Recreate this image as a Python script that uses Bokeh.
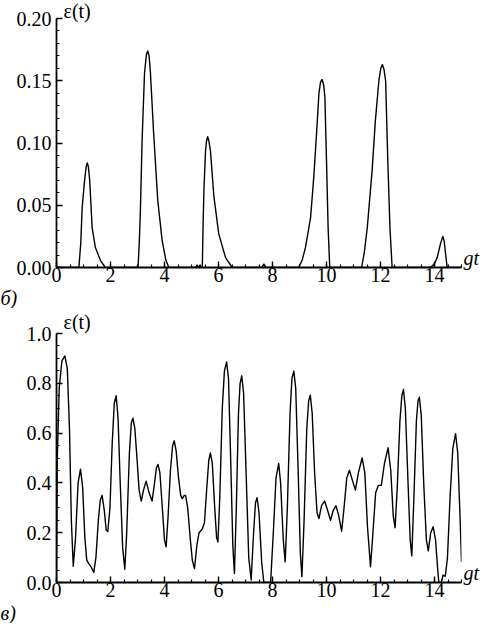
from bokeh.plotting import figure
from bokeh.layouts import column
from bokeh.models import Range1d, FixedTicker, Title, NumeralTickFormatter, LinearAxis
from bokeh.embed import file_html
from bokeh.resources import INLINE

# ---------------- data ----------------
x_ticks = [0, 2, 4, 6, 8, 10, 12, 14]
x_minor = [i * 0.5 for i in range(0, 31)]

top_t = [0.00, 0.83, 0.90, 0.95, 1.04, 1.10, 1.14, 1.18, 1.23, 1.32, 1.44, 1.63, 1.81,
         3.02, 3.07, 3.11, 3.17, 3.26, 3.33, 3.38, 3.43, 3.48, 3.60, 3.75, 3.91, 4.05, 4.16,
         5.15, 5.20, 5.25, 5.32, 5.36,
         5.40, 5.43, 5.46, 5.52, 5.56, 5.60, 5.64, 5.70, 5.83, 6.01, 6.26, 6.51,
         7.60, 7.68, 7.76,
         8.97, 9.10, 9.22, 9.41, 9.53, 9.63, 9.72, 9.78, 9.84, 9.90, 9.94, 10.00, 10.06, 10.12,
         11.30, 11.40, 11.51, 11.69, 11.81, 11.94, 12.01, 12.07, 12.13, 12.19, 12.27, 12.35, 12.43,
         13.85, 14.00, 14.10, 14.22, 14.31, 14.36, 14.41, 14.47, 15.00]
top_eps = [0.0, 0.0, 0.020, 0.048, 0.070, 0.081, 0.084, 0.081, 0.070, 0.032, 0.016, 0.0056, 0.0,
           0.0, 0.022, 0.048, 0.102, 0.156, 0.171, 0.174, 0.170, 0.156, 0.107, 0.054, 0.022, 0.006, 0.0,
           0.0, 0.002, 0.0, 0.002, 0.0,
           0.0, 0.035, 0.062, 0.094, 0.102, 0.105, 0.102, 0.094, 0.057, 0.027, 0.008, 0.0,
           0.0, 0.0027, 0.0,
           0.0, 0.006, 0.016, 0.040, 0.073, 0.107, 0.140, 0.149, 0.151, 0.146, 0.137, 0.086, 0.032, 0.0,
           0.0, 0.012, 0.032, 0.078, 0.118, 0.150, 0.160, 0.163, 0.159, 0.150, 0.086, 0.032, 0.0,
           0.0, 0.003, 0.008, 0.019, 0.025, 0.021, 0.011, 0.0, 0.0]
top_yticks = [0.0, 0.05, 0.10, 0.15, 0.20]
top_yminor = [i * 0.01 for i in range(0, 21)]

bot_t = [0.00, 0.03, 0.10, 0.20, 0.31, 0.40, 0.48, 0.55, 0.62, 0.70, 0.80, 0.89, 0.97, 1.05,
         1.12, 1.20, 1.27, 1.38, 1.46, 1.55, 1.62, 1.69, 1.77, 1.84, 1.90, 1.98, 2.06, 2.14,
         2.21, 2.28, 2.36, 2.45, 2.53, 2.60, 2.70, 2.77, 2.83, 2.90, 2.98, 3.06, 3.14, 3.22,
         3.32, 3.43, 3.54, 3.62, 3.70, 3.76, 3.83, 3.92, 4.00, 4.06, 4.13, 4.22, 4.30, 4.36,
         4.43, 4.52, 4.60, 4.66, 4.73, 4.78, 4.86, 4.95, 5.03, 5.11, 5.20, 5.28, 5.40, 5.48,
         5.56, 5.64, 5.70, 5.77, 5.86, 5.93, 5.98, 6.05, 6.14, 6.22, 6.30, 6.37, 6.45, 6.53,
         6.59, 6.66, 6.74, 6.80, 6.86, 6.93, 7.02, 7.12, 7.21, 7.30, 7.37, 7.43, 7.50, 7.60,
         7.68, 7.93, 8.03, 8.13, 8.23, 8.30, 8.40, 8.47, 8.55, 8.65, 8.72, 8.79, 8.86, 8.95,
         9.03, 9.09, 9.17, 9.27, 9.34, 9.40, 9.47, 9.56, 9.65, 9.72, 9.82, 9.93, 10.04, 10.15,
         10.25, 10.35, 10.45, 10.56, 10.65, 10.75, 10.85, 10.96, 11.07, 11.18, 11.32, 11.42,
         11.52, 11.63, 11.72, 11.82, 11.92, 12.03, 12.15, 12.28, 12.38, 12.47, 12.54, 12.62,
         12.72, 12.79, 12.85, 12.92, 13.02, 13.10, 13.16, 13.24, 13.33, 13.39, 13.44, 13.51,
         13.60, 13.70, 13.77, 13.86, 13.95, 14.04, 14.12, 14.16, 14.25, 14.32, 14.40, 14.48,
         14.58, 14.68, 14.78, 14.86, 14.95, 15.00]
bot_eps = [0.00, 0.50, 0.78, 0.89, 0.91, 0.86, 0.62, 0.25, 0.065, 0.17, 0.40, 0.455, 0.38, 0.18,
           0.09, 0.075, 0.065, 0.040, 0.10, 0.25, 0.33, 0.35, 0.29, 0.21, 0.205, 0.30, 0.55, 0.72,
           0.75, 0.66, 0.40, 0.14, 0.053, 0.20, 0.52, 0.64, 0.66, 0.62, 0.50, 0.37, 0.327, 0.37,
           0.407, 0.36, 0.327, 0.39, 0.46, 0.474, 0.44, 0.30, 0.17, 0.143, 0.26, 0.45, 0.55, 0.569,
           0.53, 0.42, 0.35, 0.337, 0.35, 0.35, 0.30, 0.18, 0.09, 0.056, 0.15, 0.20, 0.215, 0.24,
           0.37, 0.49, 0.52, 0.48, 0.30, 0.18, 0.163, 0.35, 0.70, 0.85, 0.886, 0.82, 0.50, 0.15,
           0.036, 0.30, 0.68, 0.80, 0.83, 0.76, 0.45, 0.10, 0.01, 0.20, 0.32, 0.34, 0.28, 0.08,
           0.00, 0.00, 0.20, 0.42, 0.478, 0.40, 0.17, 0.083, 0.30, 0.68, 0.82, 0.849, 0.78, 0.45,
           0.12, 0.023, 0.25, 0.62, 0.73, 0.752, 0.68, 0.44, 0.28, 0.257, 0.31, 0.327, 0.29, 0.25,
           0.29, 0.308, 0.27, 0.206, 0.30, 0.42, 0.451, 0.41, 0.371, 0.44, 0.50, 0.44,
           0.22, 0.063, 0.20, 0.36, 0.39, 0.39, 0.48, 0.541, 0.45, 0.27, 0.22, 0.38,
           0.65, 0.75, 0.775, 0.70, 0.40, 0.17, 0.107, 0.35, 0.65, 0.73, 0.744, 0.67,
           0.40, 0.17, 0.127, 0.20, 0.224, 0.17, 0.05, 0.00, 0.00, 0.03, 0.025, 0.10,
           0.35, 0.54, 0.598, 0.52, 0.25, 0.083]
bot_yticks = [0.0, 0.2, 0.4, 0.6, 0.8, 1.0]
bot_yminor = [i * 0.05 for i in range(0, 21)]

y_label = "\u03b5(t)"
x_label = "gt"
panel_labels = ["\u0431)", "\u0432)"]

FONT = "Liberation Serif"
FS = "20px"
FRAME_H = 249


def make_panel(t, eps, ymax, yticks, yminor, yfmt, panel, title_standoff):
    p = figure(frame_width=405, frame_height=FRAME_H,
               x_range=Range1d(0, 15), y_range=Range1d(0, ymax),
               output_backend="svg", toolbar_location=None,
               min_border_left=56, min_border_right=0,
               min_border_top=0, min_border_bottom=0)
    p.grid.visible = False
    p.outline_line_color = None
    p.background_fill_color = "white"
    p.border_fill_color = "white"

    p.line(t, eps, color="black", line_width=1.4, line_join="round")

    for ax in (p.xaxis[0], p.yaxis[0]):
        ax.axis_line_color = "black"
        ax.axis_line_width = 1.8
        ax.major_tick_line_color = "black"
        ax.minor_tick_line_color = "black"
        ax.major_tick_line_width = 1.4
        ax.minor_tick_line_width = 1.2
        ax.major_tick_in = 6
        ax.major_tick_out = 0
        ax.minor_tick_in = 3
        ax.minor_tick_out = 0
        ax.major_label_text_font = FONT
        ax.major_label_text_font_size = FS
        ax.major_label_text_color = "black"

    p.xaxis[0].ticker = FixedTicker(ticks=x_ticks, minor_ticks=x_minor)
    p.xaxis[0].major_label_standoff = 0
    p.yaxis[0].ticker = FixedTicker(ticks=yticks, minor_ticks=yminor)
    p.yaxis[0].formatter = NumeralTickFormatter(format=yfmt)
    p.yaxis[0].major_label_standoff = 5

    # "gt" label at the right end of the horizontal axis (a right-hand axis with one labelled tick)
    gt_pos = ymax * 10.0 / FRAME_H
    rax = LinearAxis(ticker=FixedTicker(ticks=[gt_pos], minor_ticks=[]),
                     major_label_overrides={gt_pos: x_label})
    rax.axis_line_color = None
    rax.major_tick_line_color = None
    rax.minor_tick_line_color = None
    rax.major_tick_in = 0
    rax.major_tick_out = 0
    rax.major_label_standoff = 2
    rax.major_label_text_font = FONT
    rax.major_label_text_font_size = FS
    rax.major_label_text_font_style = "italic"
    rax.major_label_text_color = "black"
    p.add_layout(rax, "right")

    p.add_layout(Title(text=y_label, align="left", offset=7, standoff=title_standoff,
                       text_font=FONT, text_font_size=FS, text_font_style="normal",
                       text_color="black"), "above")
    p.add_layout(Title(text=panel, align="left", offset=-56, standoff=0,
                       text_font=FONT, text_font_size=FS, text_font_style="italic",
                       text_color="black"), "below")
    return p


p1 = make_panel(top_t, top_eps, 0.2, top_yticks, top_yminor, "0.00", panel_labels[0], -6)
p2 = make_panel(bot_t, bot_eps, 1.0, bot_yticks, bot_yminor, "0.0", panel_labels[1], 1)

layout = column(p1, p2)
open("out.html", "w").write(file_html(layout, INLINE))
